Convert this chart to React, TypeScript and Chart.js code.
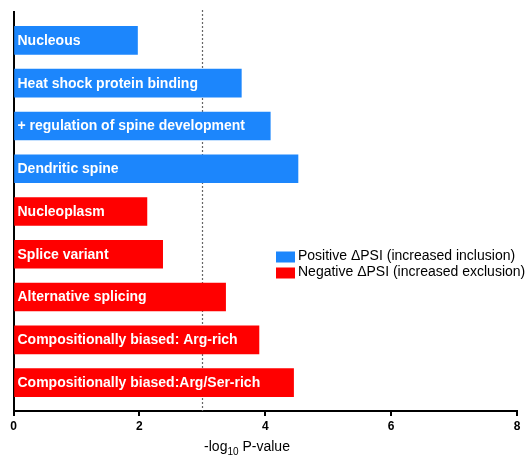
import React, { useEffect, useRef } from "react";
import { Chart, registerables } from "chart.js";

Chart.register(...registerables);

const categories = [
  "Nucleous",
  "Heat shock protein binding",
  "+ regulation of spine development",
  "Dendritic spine",
  "Nucleoplasm",
  "Splice variant",
  "Alternative splicing",
  "Compositionally biased: Arg-rich",
  "Compositionally biased:Arg/Ser-rich",
];
const positiveValues = [1.97, 3.62, 4.08, 4.52, null, null, null, null, null];
const negativeValues = [null, null, null, null, 2.12, 2.37, 3.37, 3.9, 4.45];
const xTicks = [0, 2, 4, 6, 8];
const threshold = 3;
const seriesLabels = [
  "Positive \u0394PSI (increased inclusion)",
  "Negative \u0394PSI (increased exclusion)",
];
const BLUE = "#1c86fc";
const RED = "#ff0000";
const Y_MIN = -0.665;
const Y_MAX = 8.665;

const toPoints = (vals: (number | null)[]) =>
  vals.map((v, i) => ({ x: v, y: i }));

const overlayPlugin = {
  id: "overlay",
  beforeDatasetsDraw(chart: any) {
    const { ctx, chartArea, scales } = chart;
    const x = scales.x.getPixelForValue(threshold);
    ctx.save();
    ctx.strokeStyle = "#666666";
    ctx.lineWidth = 1.2;
    ctx.setLineDash([2, 2]);
    ctx.beginPath();
    ctx.moveTo(Math.round(x) + 0.5, chartArea.top - 2);
    ctx.lineTo(Math.round(x) + 0.5, chartArea.bottom);
    ctx.stroke();
    ctx.restore();
  },
  afterDatasetsDraw(chart: any) {
    const { ctx, chartArea, scales } = chart;
    ctx.save();
    ctx.fillStyle = "#ffffff";
    ctx.font = "bold 14px 'Liberation Sans', Arial, sans-serif";
    ctx.textBaseline = "middle";
    ctx.textAlign = "left";
    categories.forEach((c, i) => {
      const y = scales.y.getPixelForValue(i);
      ctx.fillText(c, chartArea.left + 4, y + 0.5);
    });
    // legend
    const colors = [BLUE, RED];
    const rows = [256.5, 272.5];
    ctx.font = "14px 'Liberation Sans', Arial, sans-serif";
    seriesLabels.forEach((lab, i) => {
      ctx.fillStyle = colors[i];
      ctx.fillRect(276, rows[i] - 5, 19, 11);
      ctx.fillStyle = "#000000";
      ctx.fillText(lab, 298, rows[i]);
    });
    // axis title with subscript
    const baseY = 451;
    ctx.textBaseline = "alphabetic";
    ctx.font = "14px 'Liberation Sans', Arial, sans-serif";
    const p1 = "-log";
    const sub = "10";
    const p2 = " P-value";
    const w1 = ctx.measureText(p1).width;
    ctx.font = "10px 'Liberation Sans', Arial, sans-serif";
    const ws = ctx.measureText(sub).width;
    ctx.font = "14px 'Liberation Sans', Arial, sans-serif";
    const w2 = ctx.measureText(p2).width;
    const total = w1 + ws + w2;
    let sx = 247 - total / 2;
    ctx.fillText(p1, sx, baseY);
    sx += w1;
    ctx.font = "10px 'Liberation Sans', Arial, sans-serif";
    ctx.fillText(sub, sx, baseY + 4);
    sx += ws;
    ctx.font = "14px 'Liberation Sans', Arial, sans-serif";
    ctx.fillText(p2, sx, baseY);
    ctx.restore();
  },
};

export default function App() {
  const ref = useRef<HTMLCanvasElement | null>(null);
  useEffect(() => {
    if (!ref.current) return;
    const chart = new Chart(ref.current, {
      type: "bar",
      data: {
        datasets: [
          {
            label: seriesLabels[0],
            data: toPoints(positiveValues) as any,
            backgroundColor: BLUE,
            barThickness: 28,
            grouped: false,
          } as any,
          {
            label: seriesLabels[1],
            data: toPoints(negativeValues) as any,
            backgroundColor: RED,
            barThickness: 28,
            grouped: false,
          } as any,
        ],
      },
      options: {
        indexAxis: "y",
        animation: false,
        responsive: false,
        maintainAspectRatio: false,
        layout: { padding: { left: 13.5, right: 12, top: 12, bottom: 0 } },
        plugins: {
          legend: { display: false },
          tooltip: { enabled: false },
          title: { display: false },
        },
        scales: {
          x: {
            type: "linear",
            min: 0,
            max: 8,
            afterBuildTicks: (s: any) => {
              s.ticks = xTicks.map((v) => ({ value: v }));
            },
            afterFit: (s: any) => {
              s.height = 47;
            },
            ticks: {
              color: "#000000",
              font: { family: "'Liberation Sans', Arial, sans-serif", size: 12, weight: "bold" },
              padding: 3,
              maxRotation: 0,
            },
            grid: {
              display: true,
              drawOnChartArea: false,
              drawTicks: true,
              tickLength: 5,
              color: "#000000",
              lineWidth: 2,
            },
            border: { display: true, color: "#000000", width: 2 },
          },
          y: {
            type: "linear",
            reverse: true,
            bounds: "data",
            offset: false,
            grace: 0,
            min: Y_MIN,
            max: Y_MAX,
            afterDataLimits: (s: any) => {
              s.min = Y_MIN;
              s.max = Y_MAX;
            },
            afterBuildTicks: (s: any) => {
              s.ticks = [];
            },
            afterFit: (s: any) => {
              s.width = 0;
            },
            ticks: { display: false },
            grid: { display: false },
            border: { display: true, color: "#000000", width: 2 },
          },
        },
      },
      plugins: [overlayPlugin],
    } as any);
    return () => chart.destroy();
  }, []);
  return (
    <div style={{ position: "absolute", left: 0, top: 0, width: 529, height: 458 }}>
      <canvas ref={ref} width={529} height={458} />
    </div>
  );
}
